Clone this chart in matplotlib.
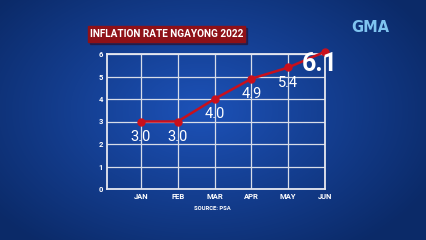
import numpy as np
import matplotlib
matplotlib.use("Agg")
import matplotlib.pyplot as plt
from matplotlib.patches import Rectangle

months = ["JAN", "FEB", "MAR", "APR", "MAY", "JUN"]
rates = [3.0, 3.0, 4.0, 4.9, 5.4, 6.1]
yticks = [0, 1, 2, 3, 4, 5, 6]

W, H = 426, 240
fig = plt.figure(figsize=(W / 100, H / 100), dpi=100)

# background radial gradient
bg = fig.add_axes([0, 0, 1, 1])
yy, xx = np.mgrid[0:H, 0:W]
d = np.sqrt(((xx - 200) / 260.0) ** 2 + ((yy - 110) / 170.0) ** 2)
d = np.clip(d, 0, 1)
c_in = np.array([0x1d, 0x52, 0xb8]) / 255
c_out = np.array([0x0b, 0x2a, 0x68]) / 255
img = c_in[None, None, :] * (1 - d[..., None]) + c_out[None, None, :] * d[..., None]
bg.imshow(img, extent=[0, W, H, 0], aspect="auto")
bg.set_xlim(0, W)
bg.set_ylim(H, 0)
bg.axis("off")

# title box
bg.add_patch(Rectangle((90, 28), 157, 15.5, color="#2a0a20", alpha=0.5, zorder=2))
bg.add_patch(Rectangle((88, 26), 157, 15.5, color="#8e1118", zorder=3))
bg.text(166.5, 34, "INFLATION RATE NGAYONG 2022", color="white", fontsize=7.2,
        fontweight="bold", ha="center", va="center", zorder=4, family="Roboto")
bg.text(370, 27, "GMA", color="#7fc4f0", fontsize=10.5, fontweight="bold",
        ha="center", va="center", family="DejaVu Sans")
bg.text(212, 208, "SOURCE: PSA", color="white", fontsize=4.2, fontweight="bold",
        ha="center", va="center", family="Roboto")

# chart axes: left 107, right 325, top 54, bottom 189
ax = fig.add_axes([107 / W, 1 - 189 / H, (325 - 107) / W, (189 - 54) / H])
ax.patch.set_alpha(0)
x = np.arange(1, len(months) + 1)
ax.plot(x, rates, color="#c8101c", linewidth=1.8, marker="o", markersize=5,
        markerfacecolor="#c8101c", markeredgecolor="#c8101c", zorder=5, clip_on=False)
ax.set_xlim(0.08, 6)
ax.set_ylim(0, 6)
ax.set_xticks(x)
ax.set_xticklabels(months)
ax.set_yticks(yticks)
ax.grid(True, color="#d8dde8", linewidth=0.9)
for s in ax.spines.values():
    s.set_color("#e6e8f0")
    s.set_linewidth(1.3)
ax.tick_params(length=0, colors="white", labelsize=5.5, pad=3)
for lab in ax.get_xticklabels() + ax.get_yticklabels():
    lab.set_fontweight("bold")
    lab.set_family("Roboto")

for xi, v in zip(x[:-1], rates[:-1]):
    ax.annotate(f"{v:.1f}", (xi, v), xytext=(0, -11), textcoords="offset points",
                ha="center", va="center", color="white", fontsize=10.5,
                family="Roboto", zorder=7)
ax.annotate(f"{rates[-1]:.1f}", (x[-1], rates[-1]), xytext=(-4, -9),
            textcoords="offset points", ha="center", va="center", color="white",
            fontsize=18, fontweight="bold", family="Roboto", annotation_clip=False,
            zorder=7)

fig.savefig("out.png", dpi=100)
